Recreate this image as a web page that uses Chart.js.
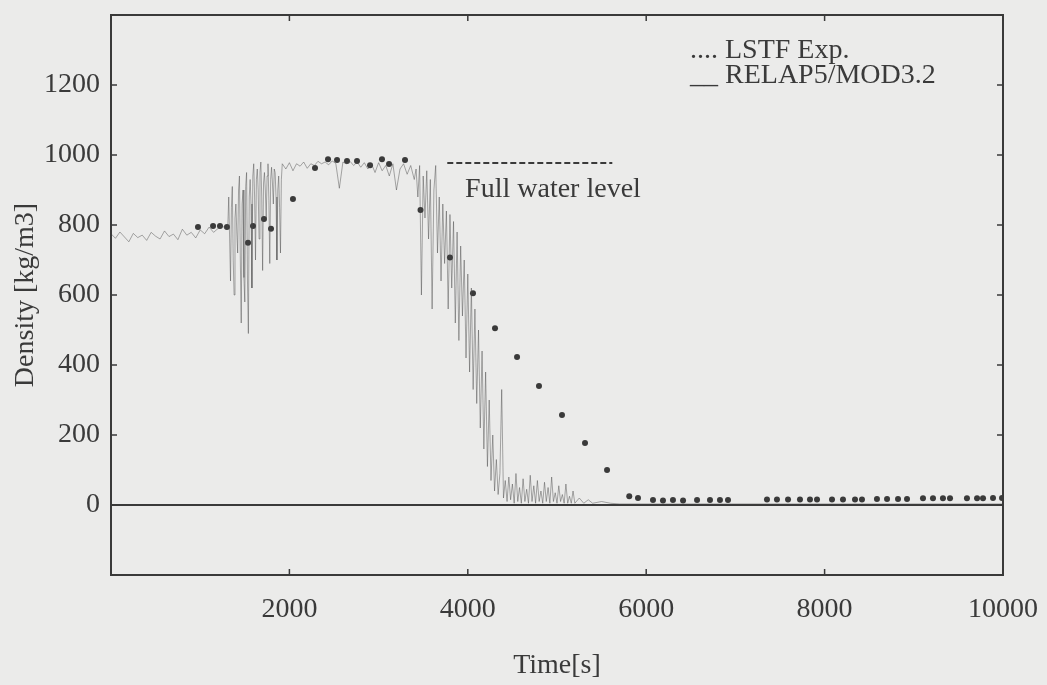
<!DOCTYPE html>
<html>
<head>
<meta charset="utf-8">
<script src="https://cdn.jsdelivr.net/npm/chart.js@4.4.0/dist/chart.umd.min.js"></script>
<style>
  html, body { margin: 0; padding: 0; background: #ebebea; }
  #myChart { display: block; }
</style>
</head>
<body>
<canvas id="myChart" width="1047" height="685"></canvas>
<script>
// tick values shown with labels
const xTickLabels = [2000, 4000, 6000, 8000, 10000];
const yTickLabels = [0, 200, 400, 600, 800, 1000, 1200];

// LSTF Exp. (measured points)  [time s, density kg/m3]
const expPoints = [
  [975,794],[1144,797],[1222,797],[1300,794],[1536,749],[1592,797],[1715,817],[1794,789],
  [2040,874],[2287,963],[2433,988],[2534,986],[2646,983],[2758,983],[2904,971],[3038,988],
  [3117,974],[3296,986],[3470,843],[3800,707],[4058,605],[4305,505],[4552,423],[4798,340],
  [5056,257],[5314,177],[5561,100],[5810,25],[5908,20],[6076,14],[6188,13],[6300,14],
  [6413,13],[6570,14],[6715,14],[6827,14],[6917,14],[7354,16],[7466,16],[7590,16],
  [7724,16],[7836,16],[7915,16],[8083,16],[8206,16],[8341,16],[8419,16],[8587,17],
  [8700,17],[8823,17],[8924,17],[9103,19],[9215,19],[9327,19],[9406,19],[9596,19],
  [9709,19],[9776,19],[9888,20],[9989,20]
];

// RELAP5/MOD3.2 calculation, read piece by piece
const relapEarly = [
  [0,775],[50,762],[100,780],[150,766],[200,752],[250,776],[300,764],[350,771],[400,756],
  [450,779],[500,768],[550,760],[600,783],[650,767],[700,774],[750,758],[800,788],[850,771],
  [900,779],[950,763],[1000,786],[1050,775],[1100,794],[1150,779],[1200,790],[1250,797],[1300,786]
];
const relapRise = [
  [1310,800],[1320,880],[1330,760],[1340,640],[1350,850],[1360,910],[1370,700],[1380,600],
  [1390,820],[1400,860],[1410,780],[1420,720],[1430,900],[1440,940],[1450,700],[1460,520],
  [1470,860],[1480,900],[1490,650],[1500,580],[1510,910],[1520,950],[1530,640],[1540,490],
  [1550,880],[1560,930],[1570,860],[1580,620],[1590,940],[1600,975],[1610,880],[1620,700],
  [1630,930],[1640,960],[1650,900],[1660,760],[1670,950],[1680,980],[1690,880],[1700,670],
  [1710,920],[1720,950],[1730,900],[1740,820],[1750,940],[1760,975],[1770,870],[1780,690],
  [1790,930],[1800,965],[1810,920],[1820,860],[1830,960],[1840,950],[1850,880],[1860,700],
  [1870,900],[1880,940],[1890,850],[1900,720],[1910,930],[1920,975]
];
const relapPlateau = [
  [1960,960],[2000,978],[2040,955],[2080,975],[2120,968],[2160,980],[2200,962],[2240,975],
  [2280,970],[2320,982],[2360,975],[2400,980],[2440,972],[2480,983],[2520,976],[2560,905],
  [2600,980],[2640,975],[2680,982],[2720,970],[2760,980],[2800,965],[2840,978],[2880,960],
  [2920,975],[2960,950],[3000,978],[3040,955],[3080,970],[3120,940],[3160,975],[3200,900],
  [3240,960],[3280,975],[3320,945],[3360,970],[3400,930]
];
const relapDrop = [
  [3420,960],[3440,880],[3460,970],[3480,600],[3500,940],[3520,820],[3540,955],[3560,760],
  [3580,930],[3600,560],[3620,900],[3640,970],[3660,720],[3680,880],[3700,640],[3720,860],
  [3740,690],[3760,840],[3780,560],[3800,830],[3820,620],[3840,810],[3860,520],[3880,780],
  [3900,470],[3920,740],[3940,540],[3960,700],[3980,420],[4000,660],[4020,380],[4040,620],
  [4060,330],[4080,560],[4100,290],[4120,500],[4140,220],[4160,440],[4180,160],[4200,380],
  [4220,110],[4240,300],[4260,70],[4280,200],[4300,40],[4320,130],[4340,30],[4360,90],
  [4380,330],[4400,20],[4420,70]
];
const relapTail = [
  [4440,10],[4460,80],[4480,15],[4500,60],[4520,5],[4540,90],[4560,10],[4580,50],[4600,5],
  [4620,75],[4640,10],[4660,45],[4680,5],[4700,85],[4720,10],[4740,55],[4760,5],[4780,70],
  [4800,10],[4820,40],[4840,5],[4860,65],[4880,10],[4900,50],[4920,5],[4940,80],[4960,10],
  [4980,35],[5000,5],[5020,55],[5040,10],[5060,30],[5080,5],[5100,60],[5120,5],[5140,25],
  [5160,5],[5180,40],[5200,5],[5250,20],[5300,5],[5350,15],[5400,5],[5500,10],[5600,5],
  [5700,3],[10000,3]
];
const relapPoints = relapEarly.concat(relapRise, relapPlateau, relapDrop, relapTail);

// full water level marker
const fullLevel = [[3770,977],[5620,977]];

const ink = '#3a3a3a';
const serif = "'Liberation Serif', 'Times New Roman', serif";

const frame = {
  id: 'frame',
  afterDraw(chart) {
    const {ctx, chartArea: a, scales: {x, y}} = chart;
    ctx.save();
    ctx.strokeStyle = ink;
    ctx.lineWidth = 2;
    ctx.strokeRect(a.left, a.top, a.right - a.left, a.bottom - a.top);
    ctx.lineWidth = 1.5;
    ctx.beginPath();
    x.ticks.forEach(t => {
      const px = x.getPixelForValue(t.value);
      ctx.moveTo(px, a.bottom); ctx.lineTo(px, a.bottom - 6);
      ctx.moveTo(px, a.top); ctx.lineTo(px, a.top + 6);
    });
    y.ticks.forEach(t => {
      const py = y.getPixelForValue(t.value);
      ctx.moveTo(a.left, py); ctx.lineTo(a.left + 6, py);
      ctx.moveTo(a.right, py); ctx.lineTo(a.right - 6, py);
    });
    ctx.stroke();

    ctx.fillStyle = ink;
    ctx.font = '28px ' + serif;
    ctx.textBaseline = 'alphabetic';
    ctx.textAlign = 'left';
    ctx.fillText('.... LSTF Exp.', 690, 58);
    ctx.fillText('__ RELAP5/MOD3.2', 690, 83);
    ctx.fillText('Full water level', x.getPixelForValue(3970), y.getPixelForValue(880));
    ctx.restore();
  }
};

const ctx = document.getElementById('myChart');
new Chart(ctx, {
  type: 'scatter',
  data: {
    datasets: [{
      label: 'RELAP5/MOD3.2',
      data: relapPoints,
      showLine: true,
      borderColor: 'rgba(70,70,70,0.45)',
      borderWidth: 1,
      pointRadius: 0
    }, {
      label: 'LSTF Exp.',
      data: expPoints,
      showLine: false,
      pointRadius: 3,
      backgroundColor: ink,
      borderWidth: 0
    }, {
      label: 'Full water level',
      data: fullLevel,
      showLine: true,
      borderColor: ink,
      borderWidth: 2,
      borderDash: [6, 3],
      pointRadius: 0
    }]
  },
  options: {
    responsive: false,
    animation: false,
    devicePixelRatio: 1,
    layout: { padding: { top: 15, right: 44, left: 0, bottom: 0 } },
    plugins: { legend: { display: false }, tooltip: { enabled: false } },
    scales: {
      x: {
        type: 'linear',
        min: 0,
        max: 10000,
        afterFit: s => { s.height = 110; s.paddingLeft = 0; s.paddingRight = 0; },
        grid: { display: false },
        border: { display: false },
        ticks: {
          stepSize: 2000,
          padding: 10,
          maxRotation: 0,
          color: ink,
          font: { family: serif, size: 28 },
          callback: v => xTickLabels.includes(v) ? String(v) : ''
        },
        title: {
          display: true,
          text: 'Time[s]',
          color: ink,
          font: { family: serif, size: 28 },
          padding: { top: 0, bottom: 3 }
        }
      },
      y: {
        min: -200,
        max: 1400,
        afterFit: s => { s.width = 111; s.paddingTop = 0; s.paddingBottom = 0; },
        grid: {
          drawTicks: false,
          color: c => c.tick && c.tick.value === 0 ? ink : 'transparent',
          lineWidth: 2
        },
        border: { display: false },
        ticks: {
          stepSize: 200,
          padding: 11,
          color: ink,
          font: { family: serif, size: 28 },
          callback: v => yTickLabels.includes(v) ? String(v) : ''
        },
        title: {
          display: true,
          text: 'Density [kg/m3]',
          color: ink,
          font: { family: serif, size: 28 },
          padding: { top: 9, bottom: 0 }
        }
      }
    }
  },
  plugins: [frame]
});
</script>
</body>
</html>
